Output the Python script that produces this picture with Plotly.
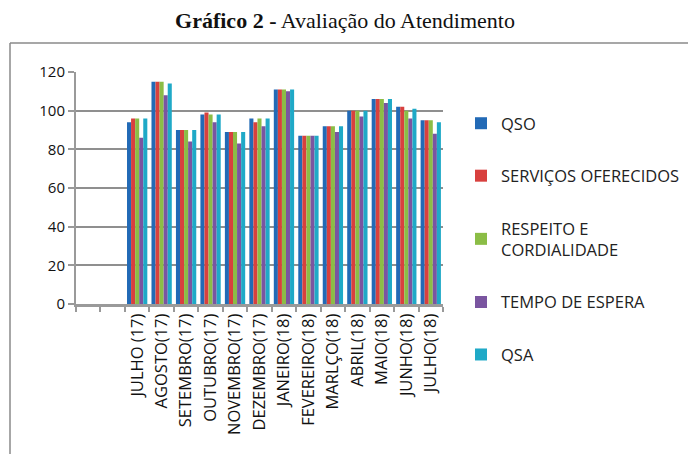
import plotly.graph_objects as go

months = ["JULHO (17)", "AGOSTO(17)", "SETEMBRO(17)", "OUTUBRO(17)", "NOVEMBRO(17)",
          "DEZEMBRO(17)", "JANEIRO(18)", "FEVEREIRO(18)", "MARLÇO(18)", "ABRIL(18)",
          "MAIO(18)", "JUNHO(18)", "JULHO(18)"]
blank_slots = ["\u2002", "\u2003"]

qso = [94, 115, 90, 98, 89, 96, 111, 87, 92, 100, 106, 102, 95]
servicos = [96, 115, 90, 99, 89, 94, 111, 87, 92, 100, 106, 102, 95]
respeito = [96, 115, 90, 98, 89, 96, 111, 87, 92, 100, 106, 100, 95]
tempo = [86, 108, 84, 94, 83, 92, 110, 87, 89, 97, 104, 96, 88]
qsa = [96, 114, 90, 98, 89, 96, 111, 87, 92, 100, 106, 101, 94]

series_names = ["QSO", "SERVIÇOS OFERECIDOS", "RESPEITO E<br>CORDIALIDADE", "TEMPO DE ESPERA", "QSA"]
series_values = [qso, servicos, respeito, tempo, qsa]
colors = ["#226AB6", "#D8403E", "#8BBD46", "#7A55A0", "#1FA9C7"]

cats = blank_slots + months

fig = go.Figure()
for i, (name, vals, col) in enumerate(zip(series_names, series_values, colors)):
    fig.add_trace(go.Bar(
        x=cats, y=[None] * len(blank_slots) + vals, name=name,
        marker=dict(color=col, line=dict(width=0)),
        legendgroup=str(i),
    ))

# page offset (browser body margin)
OFF = 8
W, H = 696, 454
L, R, T, B = 76 - OFF, 443 - OFF, 72 - OFF, 304 - OFF

def px2x(px):
    return (px - OFF - L) / (R - L)

def px2y(py):
    return (B - (py - OFF)) / (B - T)

font_main = "'Open Sans', 'DejaVu Sans', sans-serif"

fig.update_layout(
    width=W, height=H,
    margin=dict(l=L, r=W - R, t=T, b=H - B, pad=0),
    paper_bgcolor="white", plot_bgcolor="white",
    barmode="group", bargap=0.17, bargroupgap=0,
    font=dict(family=font_main, size=15, color="#222"),
    title=dict(
        text="<b>Gráfico 2 -</b> Avaliação do Atendimento",
        font=dict(family="'Liberation Serif', 'Times New Roman', serif", size=22, color="#111"),
        x=(345 - OFF) / W, xref="container", xanchor="center",
        y=1 - (20 - OFF) / H, yref="container", yanchor="middle",
    ),
    showlegend=True,
    legend=dict(
        x=px2x(461), xanchor="left", y=px2y(106), yanchor="top",
        font=dict(family=font_main, size=16.5, color="#222"),
        tracegroupgap=28, itemwidth=30, bgcolor="rgba(0,0,0,0)",
        traceorder="grouped", maxheight=420,
    ),
    xaxis=dict(
        type="category", tickson="boundaries", ticks="outside", ticklen=5,
        tickcolor="#999", tickwidth=1.5, tickangle=-90,
        showline=True, linecolor="#9a9a9a", linewidth=3,
        showgrid=False, tickfont=dict(size=16.5, family=font_main, color="#111"),
        range=[-0.5, len(cats) - 0.5],
    ),
    yaxis=dict(
        range=[0, 120], dtick=20, ticks="outside", ticklen=6, tickcolor="#999",
        tickwidth=1.5, showline=True, linecolor="#9a9a9a", linewidth=2,
        showgrid=True, gridcolor="#8f8f8f", gridwidth=1.5, zeroline=False,
        tickfont=dict(size=15, family=font_main, color="#111"),
    ),
    shapes=[
        dict(type="line", xref="paper", yref="paper",
             x0=px2x(10), x1=px2x(720), y0=px2y(43), y1=px2y(43),
             line=dict(color="#8a8a8a", width=1.5)),
        dict(type="line", xref="paper", yref="paper",
             x0=px2x(10), x1=px2x(10), y0=px2y(43), y1=px2y(480),
             line=dict(color="#8a8a8a", width=1.5)),
    ],
)

fig.write_html("out.html")
